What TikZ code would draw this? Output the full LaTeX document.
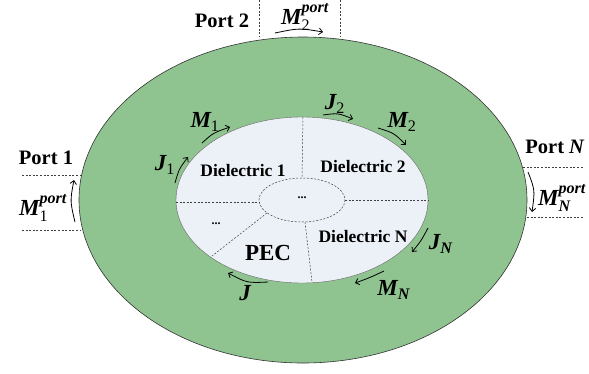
\documentclass[tikz,border=0pt]{standalone}
\usepackage{amsmath}
\usepackage{fontspec}
\setmainfont{Liberation Serif}
\usetikzlibrary{arrows.meta}
\definecolor{ringgreen}{RGB}{143,195,143}
\definecolor{corefill}{RGB}{236,240,247}
\newcommand{\fld}[2]{$\text{\bfseries\itshape #1}_{\text{#2}}$}
\newcommand{\pfld}[2]{$\text{\bfseries\itshape #1}_{\text{#2}}^{\text{\bfseries\itshape port}}$}

\begin{document}
\begin{tikzpicture}[x=1pt,y=-1pt,
  port/.style={font=\bfseries\fontsize{20.5}{24}\selectfont},
  diel/.style={font=\bfseries\fontsize{17.5}{20}\selectfont},
  lbl/.style={font=\fontsize{23}{26}\selectfont, inner sep=0pt},
  cur/.style={-{Straight Barb[length=3.5pt,width=6.5pt]}, line width=0.8pt},
  sep/.style={dash pattern=on 2pt off 1.6pt, line width=0.5pt, black!75}]
\useasboundingbox (0,0) rectangle (589,373);
\filldraw[fill=ringgreen, draw=black!80, line width=0.6pt] (303,200) ellipse [x radius=224, y radius=163];
\filldraw[fill=corefill, draw=black!60, line width=0.4pt] (302,200) ellipse [x radius=126, y radius=83];
\draw[sep] (302,200) ellipse [x radius=43, y radius=22];
% region borders
\draw[sep] (303,117) -- (302,178);
\draw[sep] (176,202) -- (259,202);
\draw[sep] (345,200) -- (428,200);
\draw[sep] (267,213) -- (212,256);
\draw[sep] (305,222) -- (312,282);
% region names
\node[diel] (d1) at (243,171) {Dielectric 1};
\node[diel] (d2) at (363,167) {Dielectric 2};
\node[diel] (dn) at (363,237) {Dielectric N};
\node[font=\bfseries\fontsize{23}{26}\selectfont] (pec) at (268,253) {PEC};
\node[font=\bfseries\large] (dots1) at (216,224) {...};
\node[font=\bfseries\large] (dots0) at (302,198) {...};
% ports
\node[port] (p1) at (46,158) {Port 1};
\node[port] (p2) at (222,21) {Port 2};
\node[port] (pn) at (555,147) {Port \textit{N}};
\draw[sep] (22,175) -- (80,175);
\draw[sep] (22,230) -- (81,230);
\draw[sep] (259,0) -- (259,37);
\draw[sep] (340,0) -- (340,37);
\draw[sep] (523,167) -- (583,167);
\draw[sep] (527,217) -- (583,217);
% currents
\coordinate (m1a) at (202,143); \coordinate (m1b) at (230,127);
\coordinate (j1a) at (175,183); \coordinate (j1b) at (188,157);
\coordinate (j2a) at (323,115); \coordinate (j2b) at (353,119);
\coordinate (m2a) at (378,128); \coordinate (m2b) at (406,145);
\coordinate (jna) at (428,228); \coordinate (jnb) at (412,252);
\coordinate (mna) at (384,271); \coordinate (mnb) at (355,283);
\coordinate (ja) at (268,282);  \coordinate (jb) at (228,273);
\coordinate (q1a) at (75,222);  \coordinate (q1b) at (74,180);
\coordinate (q2a) at (275,33);  \coordinate (q2b) at (323,32);
\coordinate (qna) at (528,172); \coordinate (qnb) at (532,212);
\draw[cur] (m1a) .. controls (213,133) .. (m1b);
\draw[cur] (j1a) .. controls (179,169) .. (j1b);
\draw[cur] (j2a) .. controls (338,113) .. (j2b);
\draw[cur] (m2a) .. controls (394,133) .. (m2b);
\draw[cur] (jna) .. controls (421,241) .. (jnb);
\draw[cur] (mna) .. controls (369,278) .. (mnb);
\draw[cur] (ja) .. controls (247,283) .. (jb);
\draw[cur] (q1a) .. controls (70,201) .. (q1b);
\draw[cur] (q2a) .. controls (299,28) .. (q2b);
\draw[cur] (qna) .. controls (535,190) .. (qnb);
\node[lbl] (m1) at (205,122) {\fld{M}{1}};
\node[lbl] (j1) at (165,165) {\fld{J}{1}};
\node[lbl] (j2) at (335,104) {\fld{J}{2}};
\node[lbl] (m2) at (402,122) {\fld{M}{2}};
\node[lbl] (jn) at (441,244) {\fld{J}{\textbf{\textit{N}}}};
\node[lbl] (mn) at (394,290) {\fld{M}{\textbf{\textit{N}}}};
\node[lbl] (j) at (245,293) {\text{\bfseries\itshape J}};
\node[lbl] (m1p) at (43,208) {\pfld{M}{1}};
\node[lbl] (m2p) at (305,17) {\pfld{M}{2}};
\node[lbl] (mnp) at (562,198) {\pfld{M}{\textbf{\textit{N}}}};
\end{tikzpicture}
\end{document}
